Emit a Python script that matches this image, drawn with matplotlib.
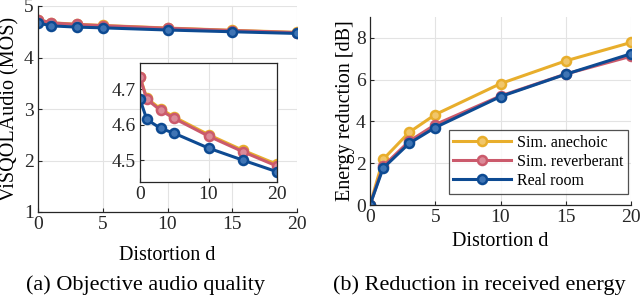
import matplotlib
matplotlib.use("Agg")
import matplotlib.pyplot as plt

plt.rcParams['font.family'] = ['Liberation Serif', 'DejaVu Serif']
plt.rcParams['font.size'] = 14

d = [0, 1, 3, 5, 10, 15, 20]
mos_anechoic = [4.735, 4.675, 4.645, 4.622, 4.572, 4.528, 4.488]
mos_reverb = [4.734, 4.672, 4.641, 4.618, 4.568, 4.524, 4.483]
mos_real = [4.672, 4.615, 4.590, 4.576, 4.534, 4.500, 4.467]
en_anechoic = [0.0, 2.18, 3.48, 4.33, 5.81, 6.90, 7.78]
en_reverb = [0.0, 1.85, 3.05, 3.85, 5.22, 6.27, 7.12]
en_real = [0.0, 1.76, 2.95, 3.71, 5.19, 6.26, 7.24]
labels = ['Sim. anechoic', 'Sim. reverberant', 'Real room']

colors = ['#E8AE2C', '#CB5A6C', '#0D4A92']
faces = ['#F1C66A', '#DB8A98', '#3F74B4']

fig = plt.figure(figsize=(6.4, 2.95), dpi=100)

def style(ax, box=False):
    ax.grid(True, color='#E3E3E3', linewidth=0.8)
    ax.set_axisbelow(True)
    ax.tick_params(direction='in', length=3, width=0.8, colors='#262626', labelcolor='#262626',
                   pad=3, labelsize=14)
    for s in ['left', 'bottom']:
        ax.spines[s].set_color('#262626')
        ax.spines[s].set_linewidth(0.9)
    for s in ['top', 'right']:
        ax.spines[s].set_visible(box)
        ax.spines[s].set_color('#262626')
        ax.spines[s].set_linewidth(0.9)

def plot_series(ax, ys):
    for y, c, f, lab in zip(ys, colors, faces, labels):
        ax.plot(d, y, '-o', color=c, markerfacecolor=f, markeredgecolor=c,
                linewidth=2.2, markersize=6.5, markeredgewidth=1.8, label=lab)

# Left panel
ax1 = fig.add_axes([38/640, 1-212/295, 259/640, 206/295])
plot_series(ax1, [mos_anechoic, mos_reverb, mos_real])
ax1.set_xlim(0, 20)
ax1.set_ylim(1, 5)
ax1.set_xticks([0, 5, 10, 15, 20])
ax1.set_yticks([1, 2, 3, 4, 5])
style(ax1)
ax1.set_xlabel('Distortion d', labelpad=9, fontsize=14.5)
ax1.set_ylabel('ViSQOLAudio (MOS)', labelpad=3, fontsize=14.5)

# Inset
axi = fig.add_axes([140/640, 1-182/295, 137/640, 119/295])
plot_series(axi, [mos_anechoic, mos_reverb, mos_real])
axi.set_xlim(0, 20)
axi.set_ylim(4.438, 4.775)
axi.set_xticks([0, 10, 20])
axi.set_yticks([4.5, 4.6, 4.7])
axi.set_facecolor('white')
style(axi, box=True)

# Right panel
ax2 = fig.add_axes([370/640, 1-205/295, 261/640, 188/295])
plot_series(ax2, [en_anechoic, en_reverb, en_real])
ax2.set_xlim(0, 20)
ax2.set_ylim(0, 9)
ax2.set_xticks([0, 5, 10, 15, 20])
ax2.set_yticks([0, 2, 4, 6, 8])
style(ax2)
ax2.set_xlabel('Distortion d', labelpad=4, fontsize=14.5)
ax2.set_ylabel('Energy reduction [dB]', labelpad=1, fontsize=14.5)
leg = ax2.legend(loc='lower right', fontsize=11.5, frameon=True, fancybox=False,
                 borderpad=0.3, labelspacing=0.2, handlelength=3.6, handletextpad=0.4,
                 borderaxespad=0.0, bbox_to_anchor=(0.99, 0.06))
leg.get_frame().set_edgecolor('#262626')
leg.get_frame().set_linewidth(0.9)

fig.text(145/640, 1-285/295, '(a) Objective audio quality', ha='center', va='center', fontsize=16)
fig.text(479/640, 1-285/295, '(b) Reduction in received energy', ha='center', va='center', fontsize=16)

fig.savefig('out.png', dpi=100)
